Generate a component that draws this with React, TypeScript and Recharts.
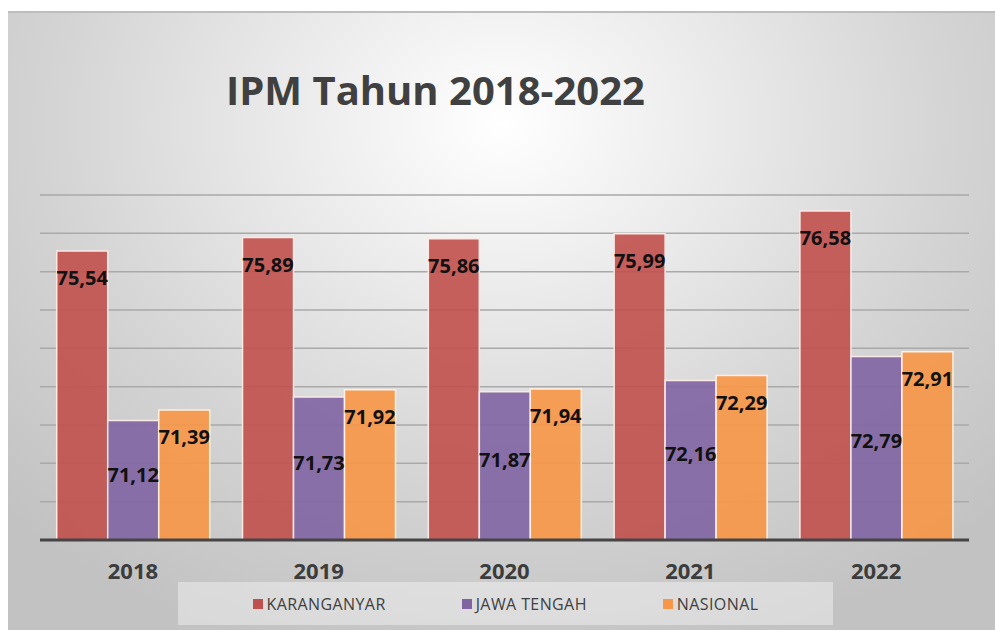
import { BarChart, Bar, XAxis, YAxis, CartesianGrid, Legend, LabelList } from "recharts";

const YEARS = ["2018", "2019", "2020", "2021", "2022"];
const KARANGANYAR = [75.54, 75.89, 75.86, 75.99, 76.58];
const JAWA_TENGAH = [71.12, 71.73, 71.87, 72.16, 72.79];
const NASIONAL = [71.39, 71.92, 71.94, 72.29, 72.91];
const SERIES_ORDER = ["KARANGANYAR", "JAWA TENGAH", "NASIONAL"];
const Y_TICKS = [68, 69, 70, 71, 72, 73, 74, 75, 76, 77];

const data = YEARS.map((year, i) => ({
  year,
  karanganyar: KARANGANYAR[i],
  jawa: JAWA_TENGAH[i],
  nasional: NASIONAL[i],
}));

const FONT = "'Open Sans', 'Liberation Sans', sans-serif";
const fmt = (v: number) => v.toFixed(2).replace(".", ",");

// purple labels sit around the middle of the bar, the others just under the top
function MidLabel(props: any) {
  const { x, y, width, height, value } = props;
  return (
    <text
      x={x + width / 2}
      y={y + height * 0.46 + 7}
      textAnchor="middle"
      fontFamily={FONT}
      fontWeight={700}
      fontSize={20}
      fill="#111"
    >
      {fmt(value)}
    </text>
  );
}

function LegendBox({ payload }: any) {
  const items = [...(payload || [])].sort(
    (a: any, b: any) => SERIES_ORDER.indexOf(a.value) - SERIES_ORDER.indexOf(b.value)
  );
  return (
    <div
      style={{
        display: "flex",
        justifyContent: "center",
        alignItems: "center",
        gap: 76,
        height: 43,
        background: "rgba(255,255,255,0.38)",
      }}
    >
      {items.map((p: any) => (
        <div key={p.value} style={{ display: "flex", alignItems: "center", gap: 4 }}>
          <span style={{ width: 10, height: 10, background: p.color, display: "inline-block" }} />
          <span style={{ fontFamily: FONT, fontSize: 16, color: "#404040", letterSpacing: 0.4 }}>{p.value}</span>
        </div>
      ))}
    </div>
  );
}

export default function App() {
  const labelStyle = { fontFamily: FONT, fontWeight: 700, fontSize: 20, fill: "#111" };
  return (
    <div style={{ position: "absolute", left: 0, top: 0, width: 995, height: 630, background: "#fff", overflow: "hidden" }}>
      <div
        style={{
          position: "absolute",
          left: 8,
          top: 11,
          width: 987,
          height: 619,
          borderTop: "2px solid #bdbdbd",
          boxSizing: "border-box",
          background: "radial-gradient(ellipse 70% 90% at 50% 18%, #ffffff 0%, #e8e8e8 35%, #d4d4d4 65%, #c2c2c2 100%)",
        }}
      />
      <div
        style={{
          position: "absolute",
          left: 226,
          top: 70,
          fontFamily: FONT,
          fontWeight: 700,
          fontSize: 40,
          lineHeight: "40px",
          color: "#404040",
          whiteSpace: "nowrap",
        }}
      >
        IPM Tahun 2018-2022
      </div>
      <div style={{ position: "absolute", left: 0, top: 0 }}>
        <BarChart
          width={995}
          height={630}
          data={data}
          margin={{ top: 195, right: 26, bottom: 60, left: 40 }}
          barCategoryGap="9%"
          barGap={0}
        >
          <CartesianGrid vertical={false} stroke="#a9a9a9" strokeWidth={1.5} />
          <YAxis hide type="number" domain={[68, 77]} ticks={Y_TICKS} allowDataOverflow />
          <XAxis
            dataKey="year"
            height={30}
            axisLine={{ stroke: "#454545", strokeWidth: 3 }}
            tickLine={false}
            tickMargin={17}
            tick={{ fontFamily: FONT, fontWeight: 700, fontSize: 22, fill: "#3c3c3c" }}
          />
          <Legend
            layout="horizontal"
            verticalAlign="middle"
            align="center"
            content={<LegendBox />}
            wrapperStyle={{ left: 178, top: 582, width: 655, bottom: "auto" }}
          />
          <Bar dataKey="karanganyar" name="KARANGANYAR" fill="#C0504D" fillOpacity={0.9} stroke="#fbe9e6" strokeWidth={1.5} isAnimationActive={false}>
            <LabelList dataKey="karanganyar" position="insideTop" offset={20} formatter={fmt} style={labelStyle} />
          </Bar>
          <Bar dataKey="jawa" name="JAWA TENGAH" fill="#8064A2" fillOpacity={0.9} stroke="#fbe9e6" strokeWidth={1.5} isAnimationActive={false}>
            <LabelList dataKey="jawa" content={<MidLabel />} />
          </Bar>
          <Bar dataKey="nasional" name="NASIONAL" fill="#F79646" fillOpacity={0.9} stroke="#fdf0e2" strokeWidth={1.5} isAnimationActive={false}>
            <LabelList dataKey="nasional" position="insideTop" offset={20} formatter={fmt} style={labelStyle} />
          </Bar>
        </BarChart>
      </div>
    </div>
  );
}
